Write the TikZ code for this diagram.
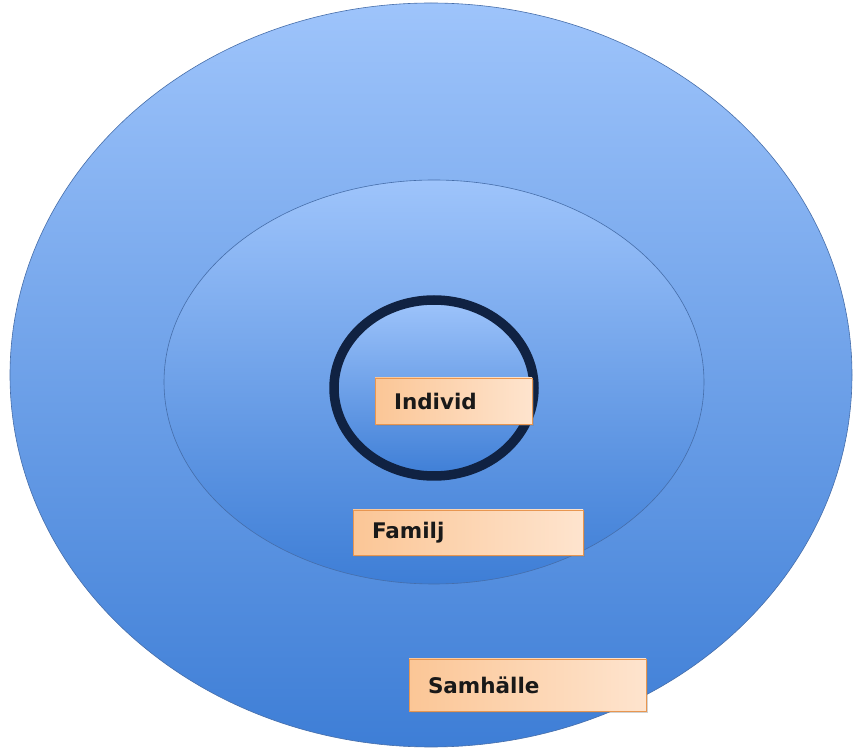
\documentclass[tikz,border=0pt]{standalone}
\usepackage{fontspec}
\setmainfont{DejaVu Sans}
\usetikzlibrary{shadows}
\definecolor{topblue}{RGB}{158,196,251}
\definecolor{botblue}{RGB}{62,126,214}
\definecolor{rimblue}{RGB}{70,110,170}
\definecolor{ringnavy}{RGB}{16,34,66}
\definecolor{peachA}{RGB}{251,198,150}
\definecolor{peachB}{RGB}{254,228,206}
\definecolor{peachline}{RGB}{232,150,80}
\tikzset{
  layer/.style={draw=rimblue, line width=0.6pt, top color=topblue, bottom color=botblue},
  labelbox/.style={draw=peachline, line width=0.8pt, left color=peachA, right color=peachB,
    font=\bfseries\fontsize{21.5}{24}\selectfont, text=black!90, align=left, inner xsep=19pt,
    inner ysep=0pt, anchor=center,
    drop shadow={shadow xshift=2pt, shadow yshift=-2pt, opacity=0.35}}
}
\begin{document}
\begin{tikzpicture}[x=1pt,y=1pt]
\useasboundingbox (0,0) rectangle (855,753);
\fill[white] (0,0) rectangle (855,753);
\path[layer] (431,378) ellipse [x radius=421, y radius=372];
\path[layer] (434,371) ellipse [x radius=270, y radius=202];
\path[top color=topblue, bottom color=botblue] (434,365) ellipse [x radius=100, y radius=88];
\draw[ringnavy, line width=9.5pt] (434,365) ellipse [x radius=100, y radius=88];
\node[labelbox, text width=119pt, minimum height=46pt] (individ) at (453.5,352) {Individ};
\node[labelbox, text width=192pt, minimum height=45pt] (familj) at (468,220.5) {Familj};
\node[labelbox, text width=199pt, minimum height=52pt] (samhalle) at (527.5,68) {Samhälle};
\end{tikzpicture}
\end{document}
